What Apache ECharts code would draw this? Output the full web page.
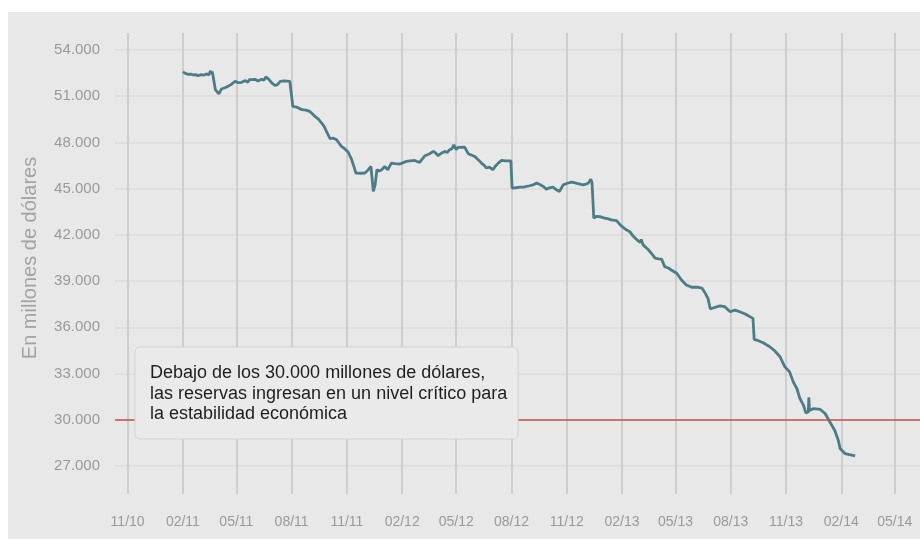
<!DOCTYPE html>
<html><head><meta charset="utf-8">
<script src="https://cdn.jsdelivr.net/npm/echarts@6/dist/echarts.min.js"></script>
<style>
html,body{margin:0;padding:0;background:#fff;}
#bg{position:absolute;left:8px;top:12px;width:912px;height:527px;background:#e8e8e8;}
#chart{position:absolute;left:0;top:0;width:920px;height:539px;}
</style></head><body>
<div id="bg"></div><div id="chart"></div>
<script>
const dates = [
'2011-02-01','2011-02-05','2011-02-10','2011-02-14','2011-02-18','2011-02-22','2011-02-26','2011-03-04','2011-03-08','2011-03-12',
'2011-03-16','2011-03-19','2011-03-20','2011-03-22','2011-03-25','2011-03-27','2011-04-02','2011-04-04','2011-04-06','2011-04-09',
'2011-04-12','2011-04-17','2011-04-20','2011-04-23','2011-04-29','2011-05-04','2011-05-07','2011-05-10','2011-05-16','2011-05-20',
'2011-05-23','2011-05-26','2011-06-01','2011-06-06','2011-06-12','2011-06-16','2011-06-19','2011-06-24','2011-06-29','2011-07-04',
'2011-07-08','2011-07-13','2011-07-20','2011-07-29','2011-08-01','2011-08-03','2011-08-06','2011-08-09','2011-08-12','2011-08-18',
'2011-08-25','2011-08-31','2011-09-05','2011-09-09','2011-09-12','2011-09-15','2011-09-20','2011-09-24','2011-09-28','2011-10-04',
'2011-10-09','2011-10-15','2011-10-19','2011-10-23','2011-10-28','2011-11-03','2011-11-09','2011-11-13','2011-11-16','2011-11-24',
'2011-12-01','2011-12-06','2011-12-11','2011-12-13','2011-12-15','2011-12-18','2011-12-21','2011-12-25','2011-12-29','2012-01-03',
'2012-01-08','2012-01-14','2012-01-20','2012-01-28','2012-01-31','2012-02-08','2012-02-14','2012-02-22','2012-03-01','2012-03-06',
'2012-03-10','2012-03-17','2012-03-24','2012-03-28','2012-04-01','2012-04-06','2012-04-12','2012-04-16','2012-04-20','2012-04-24',
'2012-04-27','2012-05-01','2012-05-04','2012-05-07','2012-05-15','2012-05-21','2012-06-01','2012-06-06','2012-06-12','2012-06-17',
'2012-06-20','2012-06-25','2012-07-01','2012-07-05','2012-07-10','2012-07-15','2012-07-22','2012-07-31','2012-08-02','2012-08-08',
'2012-08-15','2012-08-21','2012-08-31','2012-09-06','2012-09-12','2012-09-18','2012-09-23','2012-09-28','2012-10-03','2012-10-09',
'2012-10-14','2012-10-20','2012-10-26','2012-11-02','2012-11-09','2012-11-15','2012-11-20','2012-11-28','2012-12-03','2012-12-07',
'2012-12-11','2012-12-13','2012-12-16','2012-12-20','2012-12-26','2013-01-03','2013-01-08','2013-01-14','2013-01-23','2013-01-29',
'2013-02-04','2013-02-08','2013-02-14','2013-02-19','2013-02-24','2013-03-03','2013-03-05','2013-03-08','2013-03-11','2013-03-16',
'2013-03-22','2013-03-28','2013-04-03','2013-04-08','2013-04-13','2013-04-19','2013-04-24','2013-05-03','2013-05-11','2013-05-19',
'2013-05-28','2013-06-08','2013-06-14','2013-06-19','2013-06-24','2013-06-28','2013-07-06','2013-07-14','2013-07-22','2013-07-31',
'2013-08-08','2013-08-16','2013-08-25','2013-09-07','2013-09-09','2013-09-15','2013-09-24','2013-09-28','2013-10-05','2013-10-13',
'2013-10-22','2013-10-30','2013-11-07','2013-11-13','2013-11-19','2013-11-24','2013-11-30','2013-12-04','2013-12-08','2013-12-09',
'2013-12-10','2013-12-17','2013-12-28','2014-01-05','2014-01-13','2014-01-21','2014-01-27','2014-01-30','2014-02-07','2014-02-24'
];
const reserves = [
52580,52480,52420,52440,52380,52400,52340,52400,52360,52450,
52380,52650,52450,52600,52510,51430,51150,51300,51470,51420,
51550,51640,51580,51780,51970,51880,51950,51900,52020,51900,
52080,52030,52100,51990,52100,52050,52250,52100,51860,51710,
51730,51970,51990,51970,51950,50340,50450,50300,50250,50130,
50100,50020,49850,49690,49720,49500,49260,49050,48720,48240,
48280,48180,47950,47740,47600,47380,46880,46400,46010,46000,
46010,46200,46440,46450,44820,45250,46230,46150,46230,46440,
46230,46660,46620,46600,46600,46770,46810,46830,46700,46950,
47140,47250,47420,47300,47140,47300,47420,47350,47530,47600,
47850,47530,47680,47640,47700,47270,47090,46900,46660,46500,
46340,46400,46230,46450,46660,46830,46800,46800,45040,45060,
45100,45100,45190,45250,45360,45250,45140,44970,45050,45100,
44950,44820,45250,45350,45430,45380,45320,45250,45300,45360,
45620,45400,43090,43200,43190,43090,43050,42980,42930,42650,
42450,42330,42210,41940,41750,41500,41700,41350,41350,41070,
40800,40490,40450,40420,39940,39850,39720,39510,39070,38750,
38600,38600,38550,38250,37880,37190,37300,37400,37340,37010,
37120,37010,36860,36580,35220,35150,35000,34900,34740,34480,
34090,33440,33110,32460,32030,31380,30950,30450,30510,31450,
30600,30730,30670,30410,29860,29320,28670,28130,27810,27650
];
const tickDates = ['2010-11-01','2011-02-01','2011-05-01','2011-08-01','2011-11-01','2012-02-01','2012-05-01','2012-08-01','2012-11-01','2013-02-01','2013-05-01','2013-08-01','2013-11-01','2014-02-01','2014-05-01'];
const tickLabels = ['11/10','02/11','05/11','08/11','11/11','02/12','05/12','08/12','11/12','02/13','05/13','08/13','11/13','02/14','05/14'];
const xRange = ['2010-10-11','2014-06-12'];
const yMin = 27000, yMax = 54000, yStep = 3000;
const threshold = 30000;
const axisName = 'En millones de dólares';
const noteLines = ['Debajo de los 30.000 millones de dólares,','las reservas ingresan en un nivel crítico para','la estabilidad económica'];

function ts(s){const p=s.split('-');return Date.UTC(+p[0],+p[1]-1,+p[2]);}
const tickTs = tickDates.map(ts);
const seriesData = dates.map((d,i)=>[ts(d), reserves[i]]);
function fmtThousands(v){return String(v).replace(/\B(?=(\d{3})+(?!\d))/g,'.');}
function tickLabel(v){let best=0,bd=Infinity;tickTs.forEach((t,i)=>{const dd=Math.abs(t-v);if(dd<bd){bd=dd;best=i;}});return tickLabels[best];}
const FONT = '"Liberation Sans", Arial, sans-serif';

const chart = echarts.init(document.getElementById('chart'), null, {renderer:'canvas'});
chart.setOption({
  animation:false,
  grid:[
    {left:115,right:0,top:50,bottom:73},
    {left:115,right:0,top:33,bottom:45}
  ],
  xAxis:[
    {gridIndex:0,type:'value',min:ts(xRange[0]),max:ts(xRange[1]),show:false,splitLine:{show:false}},
    {gridIndex:1,type:'value',min:ts(xRange[0]),max:ts(xRange[1]),
      axisLine:{show:false},
      axisTick:{show:false,customValues:tickTs},
      axisLabel:{customValues:tickTs,formatter:tickLabel,color:'#9a9a9a',fontSize:14,fontFamily:FONT,margin:21},
      splitLine:{show:true,lineStyle:{color:'#c6c6c6',width:1.5}}
    }
  ],
  yAxis:[
    {gridIndex:0,type:'value',min:yMin,max:yMax,interval:yStep,
      axisLine:{show:false},axisTick:{show:false},
      axisLabel:{color:'#9a9a9a',fontSize:15,fontFamily:FONT,margin:15,formatter:fmtThousands},
      splitLine:{show:true,lineStyle:{color:'#dcdcdc',width:1.5}},
      name:axisName,nameLocation:'middle',nameGap:75,
      nameTextStyle:{fontSize:20,color:'#a3a3a3',fontFamily:FONT}
    },
    {gridIndex:1,type:'value',show:false,splitLine:{show:false}}
  ],
  series:[{
    type:'line',xAxisIndex:0,yAxisIndex:0,data:seriesData,
    showSymbol:false,symbol:'none',
    lineStyle:{color:'#4b7d87',width:2.8},
    z:3,
    markLine:{silent:true,symbol:'none',label:{show:false},
      lineStyle:{color:'#c0504d',width:1.5,type:'solid'},
      data:[{yAxis:threshold}]}
  }],
  graphic:[
    {type:'rect',z:100,shape:{x:135,y:347,width:383,height:92,r:5},style:{fill:'#eaeaea',stroke:'#d2d2d2',lineWidth:1}},
    {type:'text',z:101,style:{x:150,y:363,text:noteLines.join('\n'),font:'18px '+FONT,fill:'#1e1e1e',lineHeight:20.5,verticalAlign:'top'}}
  ]
});
</script>
</body></html>
